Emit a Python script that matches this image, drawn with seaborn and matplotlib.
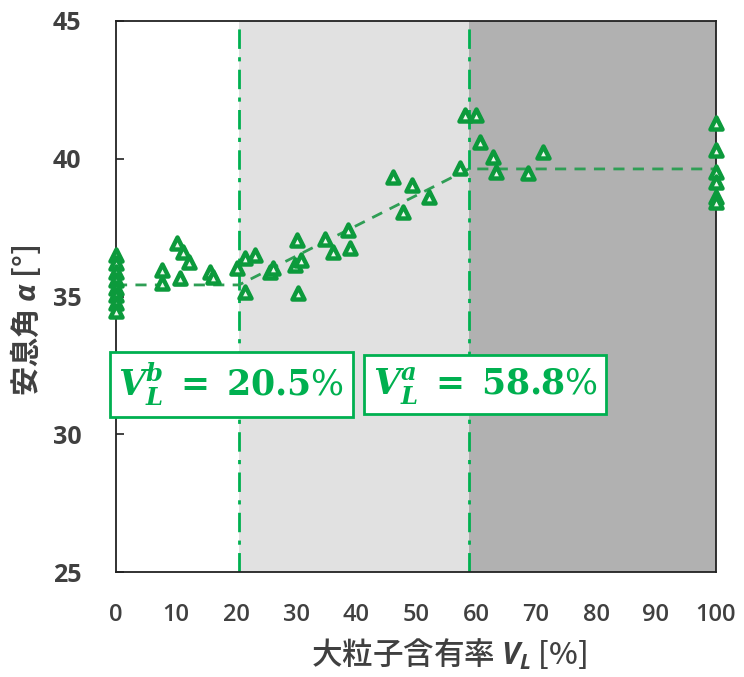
import numpy as np
import pandas as pd
import matplotlib
matplotlib.use("Agg")
import matplotlib.pyplot as plt
import seaborn as sns

# Measured angle of repose vs. large-particle content
vl_pct = [0, 0, 0, 0, 0, 0, 0, 0,
          7.6, 7.6, 10.1, 10.7, 11.2, 12.1, 15.7, 16.2,
          20.1, 21.5, 21.5, 23.2, 25.7, 26.2, 29.8, 30.1, 30.4, 30.9,
          34.8, 36.2, 38.7, 39.0, 46.2, 47.9, 49.3, 52.1, 57.3,
          58.2, 60.0, 60.6, 62.8, 63.4, 68.7, 71.2,
          100, 100, 100, 100, 100, 100]
alpha_deg = [36.5, 36.2, 35.9, 35.6, 35.3, 35.05, 34.76, 34.47,
             35.96, 35.48, 36.93, 35.66, 36.6, 36.26, 35.9, 35.72,
             36.02, 36.39, 35.17, 36.5, 35.9, 36.02, 36.14, 37.05, 35.12, 36.32,
             37.08, 36.63, 37.41, 36.75, 39.35, 38.08, 39.05, 38.62, 39.65,
             41.59, 41.59, 40.62, 40.08, 39.53, 39.47, 40.26,
             41.29, 40.32, 39.53, 39.17, 38.62, 38.44]

# Piecewise fit through the two threshold contents
vl_b = 20.5
vl_a = 58.8
fit_x = [0, vl_b, vl_a, 100]
fit_y = [35.42, 35.42, 39.63, 39.63]

x_ticks = [0, 10, 20, 30, 40, 50, 60, 70, 80, 90, 100]
y_ticks = [25, 30, 35, 40, 45]

sns.set_theme(style="white")
plt.rcParams["font.family"] = ["Open Sans", "Noto Sans CJK JP", "DejaVu Sans"]
plt.rcParams["mathtext.fontset"] = "custom"
plt.rcParams["mathtext.rm"] = "DejaVu Serif"
plt.rcParams["mathtext.it"] = "Open Sans:italic:bold"
plt.rcParams["mathtext.bf"] = "DejaVu Serif:bold"
plt.rcParams["mathtext.bfit"] = "DejaVu Serif:italic:bold"

fig = plt.figure(figsize=(7.44, 6.77), dpi=100)
ax = fig.add_axes([116 / 744, 1 - 572 / 677, 600 / 744, 551 / 677])

ax.axvspan(vl_b, vl_a, color="#e1e1e1", zorder=0, lw=0)
ax.axvspan(vl_a, 100, color="#b1b1b1", zorder=0, lw=0)

green = "#00b050"
for v in (vl_b, vl_a):
    ax.axvline(v, color=green, lw=2, ls=(0, (7, 3, 1.5, 3)), zorder=2)

fit = pd.DataFrame({"x": fit_x, "y": fit_y})
sns.lineplot(data=fit, x="x", y="y", ax=ax, color="#2f9e55", lw=2,
             linestyle=(0, (4, 3)), zorder=3)

pts = pd.DataFrame({"VL": vl_pct, "alpha": alpha_deg})
sns.scatterplot(data=pts, x="VL", y="alpha", ax=ax, marker="^", s=75,
                color="#0c9a3c", edgecolor="#0c9a3c", linewidth=3.2,
                facecolor="#eef8ee", zorder=4, clip_on=False)

ax.set_xlim(0, 100)
ax.set_ylim(25, 45)
ax.set_xticks(x_ticks)
ax.set_yticks(y_ticks)
ax.tick_params(axis="y", direction="in", length=6, width=1.2, color="#222222",
               pad=25, labelsize=18, labelcolor="#404040", left=True)
ax.tick_params(axis="x", length=0, pad=22, labelsize=17, labelcolor="#404040")
for lbl in ax.get_yticklabels():
    lbl.set_fontweight("bold")
for lbl in ax.get_xticklabels():
    lbl.set_fontweight("semibold")

for sp in ax.spines.values():
    sp.set_visible(True)
    sp.set_color("#222222")
    sp.set_linewidth(1.3)

ax.set_xlabel(r"大粒子含有率 $\mathit{V_L}$ [%]", fontsize=22, color="#404040",
              family=["Noto Sans CJK JP"], fontweight="medium")
ax.xaxis.set_label_coords(0.555, -0.118)
ax.set_ylabel(r"安息角 $\alpha$ [°]", fontsize=21, color="#404040",
              family=["Noto Sans CJK JP"], fontweight="bold")
ax.yaxis.set_label_coords(-0.121, 0.456)

box = dict(boxstyle="square,pad=0.25", fc="white", ec=green, lw=2)
ax.text(19.2, 31.8, r"$\mathbfit{V}_{\mathbfit{L}}^{\mathbfit{b}}\mathbf{\ =\ 20.5}\mathrm{\%}$",
        color=green, fontsize=25, ha="center", va="center", bbox=box,
        zorder=6, clip_on=False)
ax.text(61.5, 31.8, r"$\mathbfit{V}_{\mathbfit{L}}^{\mathbfit{a}}\mathbf{\ =\ 58.8}\mathrm{\%}$",
        color=green, fontsize=25, ha="center", va="center", bbox=box,
        zorder=6, clip_on=False)

fig.savefig("out.png", dpi=100)
